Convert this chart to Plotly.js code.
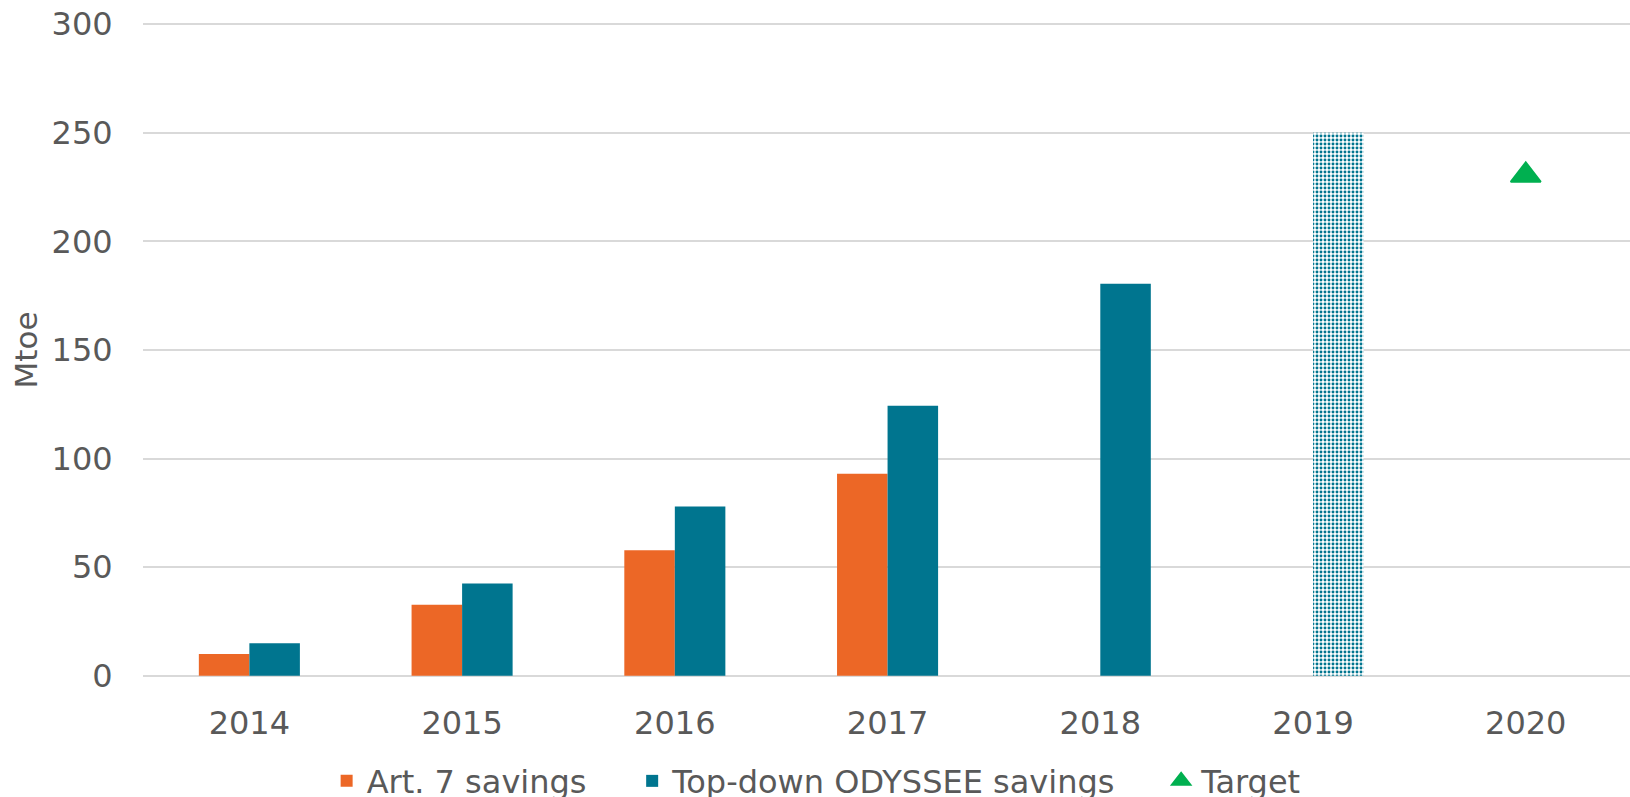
<!DOCTYPE html>
<html>
<head>
<meta charset="utf-8">
<script src="https://cdn.plot.ly/plotly-3.0.1.min.js"></script>
<style>html,body{margin:0;padding:0;background:#fff;}#chart{width:1630px;height:797px;}</style>
</head>
<body>
<div id="chart"></div>
<script>
const years = ['2014', '2015', '2016', '2017', '2018', '2019', '2020'];
const art7Savings = [10, 32.7, 57.8, 93, null, null, null];
const topDownSavings = [15, 42.5, 78, 124.3, 180.5, 250, null];
const topDownEstimated = [false, false, false, false, false, true, false];
const targetYears = ['2020'];
const targetValues = [230.4];
const yTicks = [0, 50, 100, 150, 200, 250, 300];
const legendNames = ['Art. 7 savings', 'Top-down ODYSSEE savings', 'Target'];

const ORANGE = '#EC6726';
const TEAL = '#00758F';
const GREEN = '#00B050';
const GREY = '#595959';
const FONT = 'DejaVu Sans, Verdana, sans-serif';
const PAD = '\u00A0\u00A0\u00A0\u00A0';

const traces = [
  {
    type: 'bar', name: legendNames[0] + PAD, x: years, y: art7Savings,
    marker: {color: ORANGE}
  },
  {
    type: 'bar', name: legendNames[1] + PAD, x: years, y: topDownSavings,
    marker: {
      color: TEAL,
      pattern: {
        shape: topDownEstimated.map(e => e ? '.' : ''),
        bgcolor: '#ffffff', size: 4, solidity: 0.42, fillmode: 'replace'
      }
    }
  },
  {
    type: 'scatter', mode: 'markers', name: legendNames[2], x: targetYears, y: targetValues,
    marker: {symbol: 'triangle-up', size: 26, color: GREEN, line: {color: GREEN, width: 2}}
  }
];

const layout = {
  width: 1630, height: 797,
  margin: {l: 143, r: 0, t: 22, b: 119},
  paper_bgcolor: '#ffffff', plot_bgcolor: '#ffffff',
  font: {family: FONT, color: GREY, size: 32},
  barmode: 'group', bargap: 0.525, bargroupgap: 0,
  showlegend: true,
  legend: {
    orientation: 'h', xref: 'container', yref: 'container',
    x: 0.501, xanchor: 'center', y: 0.02, yanchor: 'middle',
    font: {family: FONT, size: 32, color: GREY},
    itemwidth: 30, traceorder: 'normal'
  },
  xaxis: {
    type: 'category', range: [-0.5, 6.49],
    tickfont: {family: FONT, size: 32, color: GREY},
    ticks: 'outside', ticklen: 17, tickcolor: 'rgba(0,0,0,0)',
    showgrid: false, zeroline: false, showline: false, automargin: false
  },
  yaxis: {
    range: [-1, 301], tickvals: yTicks,
    tickfont: {family: FONT, size: 32, color: GREY},
    ticks: 'outside', ticklen: 23, tickcolor: 'rgba(0,0,0,0)',
    showgrid: true, gridcolor: '#D9D9D9', gridwidth: 2,
    zeroline: false, showline: false, automargin: true,
    title: {text: 'Mtoe', font: {family: FONT, size: 31, color: GREY}, standoff: 4}
  }
};

Plotly.newPlot('chart', traces, layout, {displayModeBar: false, staticPlot: true});
</script>
</body>
</html>
